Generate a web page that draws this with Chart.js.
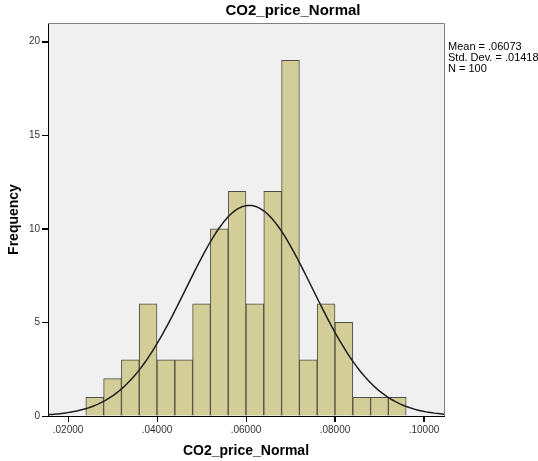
<!DOCTYPE html>
<html>
<head>
<meta charset="utf-8">
<script src="https://cdn.jsdelivr.net/npm/chart.js@4/dist/chart.umd.min.js"></script>
<style>
    body { margin: 0; background: #ffffff; }
    #histChart { display: block; }
</style>
</head>
<body>
<canvas id="histChart" width="538" height="461"></canvas>
<script>
// bin centres (width .004) and counts
var binCenters = [0.026, 0.030, 0.034, 0.038, 0.042, 0.046, 0.050, 0.054, 0.058,
    0.062, 0.066, 0.070, 0.074, 0.078, 0.082, 0.086, 0.090, 0.094];
var binCounts = [1, 2, 3, 6, 3, 3, 6, 10, 12, 6, 12, 19, 3, 6, 5, 1, 1, 1];

var xTicks = [0.02, 0.04, 0.06, 0.08, 0.10];
var xTickLabels = ['.02000', '.04000', '.06000', '.08000', '.10000'];
var yTicks = [0, 5, 10, 15, 20];
var yTickLabels = ['0', '5', '10', '15', '20'];

var statMean = 0.06073;
var statStd = 0.01418;
var statN = 100;
var binWidth = 0.004;
var statLines = ['Mean = .06073', 'Std. Dev. = .01418', 'N = 100'];

var xMin = 0.0155, xMax = 0.1045;
var tickLen = 6;
var fontFamily = 'Arial, "Liberation Sans", sans-serif';

// fitted normal curve, scaled to counts per bin
function normalCurve() {
    var pts = [];
    var steps = 200;
    for (var i = 0; i <= steps; i++) {
        var x = xMin + (xMax - xMin) * i / steps;
        var z = (x - statMean) / statStd;
        var y = statN * binWidth * Math.exp(-0.5 * z * z) / (statStd * Math.sqrt(2 * Math.PI));
        pts.push({ x: x, y: y });
    }
    return pts;
}

var barData = binCenters.map(function (c, i) {
    return { x: c, y: binCounts[i] };
});

var plotFrame = {
    id: 'plotFrame',
    beforeDraw: function (chart) {
        var ctx = chart.ctx;
        var a = chart.chartArea;
        ctx.save();
        ctx.fillStyle = '#ffffff';
        ctx.fillRect(0, 0, chart.width, chart.height);
        ctx.fillStyle = '#f0f0f0';
        ctx.fillRect(a.left, a.top, a.right - a.left, a.bottom - a.top);
        ctx.restore();
    },
    afterDraw: function (chart) {
        var ctx = chart.ctx;
        var a = chart.chartArea;
        var xs = chart.scales.x;
        var ys = chart.scales.y;
        ctx.save();
        ctx.strokeStyle = '#808080';
        ctx.lineWidth = 1;
        ctx.beginPath();
        ctx.moveTo(a.left, Math.round(a.top) + 0.5);
        ctx.lineTo(Math.round(a.right) + 0.5, Math.round(a.top) + 0.5);
        ctx.lineTo(Math.round(a.right) + 0.5, a.bottom);
        ctx.stroke();

        // outward tick marks
        ctx.strokeStyle = '#000000';
        ctx.beginPath();
        xTicks.forEach(function (v) {
            var px = Math.round(xs.getPixelForValue(v)) + 0.5;
            ctx.moveTo(px, a.bottom);
            ctx.lineTo(px, a.bottom + tickLen);
        });
        yTicks.forEach(function (v) {
            var py = Math.round(ys.getPixelForValue(v)) + 0.5;
            ctx.moveTo(a.left, py);
            ctx.lineTo(a.left - tickLen, py);
        });
        ctx.stroke();

        // chart title
        ctx.fillStyle = '#000000';
        ctx.font = 'bold 15px ' + fontFamily;
        ctx.textAlign = 'center';
        ctx.textBaseline = 'middle';
        ctx.fillText('CO2_price_Normal', 293, 11);

        // summary statistics
        ctx.font = '11px ' + fontFamily;
        ctx.textAlign = 'left';
        for (var i = 0; i < statLines.length; i++) {
            ctx.fillText(statLines[i], 448, 47 + i * 11);
        }
        ctx.restore();
    }
};

var ctx = document.getElementById('histChart');
var histChart = new Chart(ctx, {
    type: 'bar',
    data: {
        datasets: [{
            type: 'line',
            data: normalCurve(),
            borderColor: '#1e1e1e',
            borderWidth: 1.5,
            pointRadius: 0,
            tension: 0,
            fill: false,
            order: 0
        }, {
            type: 'bar',
            data: barData,
            backgroundColor: '#d3ce97',
            borderColor: '#4d4d45',
            borderWidth: 1,
            barPercentage: 1,
            categoryPercentage: 1,
            grouped: false,
            order: 1
        }]
    },
    options: {
        responsive: false,
        animation: false,
        layout: {
            padding: { left: 0, right: 94, top: 23, bottom: 0 }
        },
        plugins: {
            legend: { display: false },
            tooltip: { enabled: false },
            title: { display: false }
        },
        scales: {
            x: {
                type: 'linear',
                min: xMin,
                max: xMax,
                offset: false,
                afterBuildTicks: function (scale) {
                    scale.ticks = xTicks.map(function (v) { return { value: v }; });
                },
                afterFit: function (scale) {
                    scale.height = 45;
                },
                ticks: {
                    autoSkip: false,
                    maxRotation: 0,
                    padding: 2,
                    color: '#333333',
                    font: { family: fontFamily, size: 10 },
                    callback: function (value, index) {
                        return xTickLabels[index];
                    }
                },
                grid: {
                    offset: false,
                    drawOnChartArea: false,
                    drawTicks: true,
                    tickLength: tickLen,
                    tickColor: '#000000',
                    color: '#000000'
                },
                border: { color: '#000000', width: 1 },
                title: {
                    display: true,
                    text: 'CO2_price_Normal',
                    color: '#000000',
                    font: { family: fontFamily, size: 14, weight: 'bold' },
                    padding: { top: 0, bottom: 1 }
                }
            },
            y: {
                type: 'linear',
                min: 0,
                max: 21,
                afterBuildTicks: function (scale) {
                    scale.ticks = yTicks.map(function (v) { return { value: v }; });
                },
                afterFit: function (scale) {
                    scale.width = 48;
                },
                ticks: {
                    padding: 2,
                    color: '#333333',
                    font: { family: fontFamily, size: 10 },
                    callback: function (value, index) {
                        return yTickLabels[index];
                    }
                },
                grid: {
                    drawOnChartArea: false,
                    drawTicks: true,
                    tickLength: tickLen,
                    tickColor: '#000000',
                    color: '#000000'
                },
                border: { color: '#000000', width: 1 },
                title: {
                    display: true,
                    text: 'Frequency',
                    color: '#000000',
                    font: { family: fontFamily, size: 14, weight: 'bold' },
                    padding: { top: 6, bottom: 0 }
                }
            }
        }
    },
    plugins: [plotFrame]
});
</script>
</body>
</html>
